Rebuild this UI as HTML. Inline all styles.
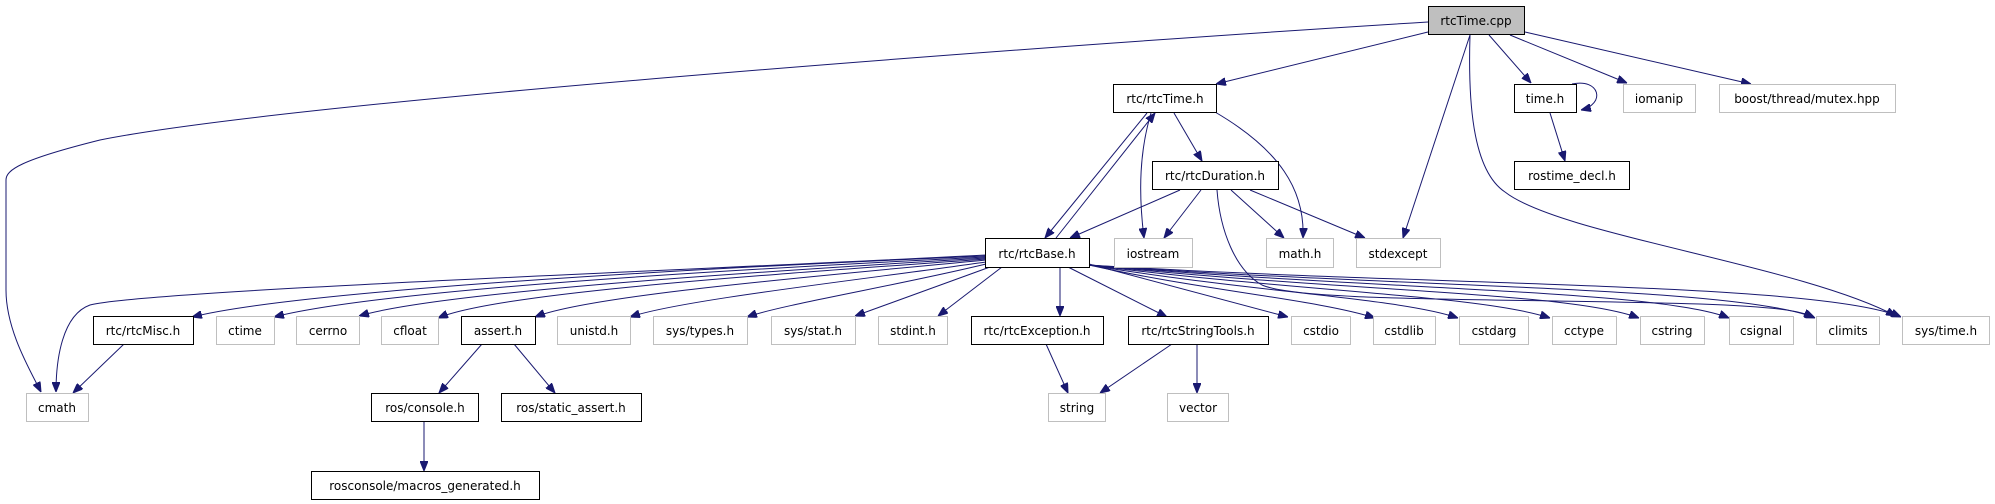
<!DOCTYPE html>
<html><head><meta charset="utf-8"><style>
html,body{margin:0;padding:0;background:#fff;}
svg{display:block;}
text{font-family:"DejaVu Sans","Liberation Sans",sans-serif;font-size:12px;text-anchor:middle;fill:#000;}
.b{fill:#fff;stroke:#000;stroke-width:1;}
.g{fill:#fff;stroke:#bfbfbf;stroke-width:1;}
.e{fill:none;stroke:#191970;stroke-width:1;marker-end:url(#a);}
</style></head><body>
<svg width="1995" height="504" viewBox="0 0 1995 504" xmlns="http://www.w3.org/2000/svg">
<defs><marker id="a" markerUnits="userSpaceOnUse" markerWidth="10" markerHeight="8" refX="10" refY="4" orient="auto"><path d="M0,0 L10,4 L0,8 z" fill="#191970" stroke="#191970"/></marker></defs>

<!-- edges from rtcTime.cpp -->
<path class="e" d="M1428,22 C1100,42 300,100 100,140 C20,160 6,170 6,180 L6,290 C6,330 30,370 41,392"/>
<path class="e" d="M1428,32 L1216,84"/>
<path class="e" d="M1470,35 L1403,238"/>
<path class="e" d="M1470,35 C1468,100 1472,170 1505,192 C1560,235 1800,265 1896,316"/>
<path class="e" d="M1489,35 L1531,83"/>
<path class="e" d="M1510,35 L1627,83"/>
<path class="e" d="M1525,32 L1751,84"/>
<path class="e" d="M1572,84 C1600,78 1606,104 1581,110"/>
<path class="e" d="M1550,113 L1565,161"/>

<!-- rtcTime.h -->
<path class="e" d="M1147,113 L1045,238"/>
<path class="e" d="M1056,238 L1155,113"/>
<path class="e" d="M1151,113 C1140,150 1138,190 1144,238"/>
<path class="e" d="M1174,113 L1202,161"/>
<path class="e" d="M1215,112 C1280,150 1305,190 1303,238"/>

<!-- rtcDuration.h -->
<path class="e" d="M1180,190 L1070,238"/>
<path class="e" d="M1201,190 L1164,238"/>
<path class="e" d="M1231,190 L1284,238"/>
<path class="e" d="M1250,190 L1365,238"/>
<path class="e" d="M1217,190 C1220,230 1235,270 1262,285 C1300,302 1500,298 1700,304 C1780,307 1800,311 1814,317"/>

<!-- rtcBase.h left fan -->
<path class="e" d="M986,255 C700,270 150,290 90,305 C62,315 56,360 56,392"/>
<path class="e" d="M986,256 C700,268 300,290 192,317"/>
<path class="e" d="M986,257 C720,270 380,290 274,317"/>
<path class="e" d="M986,258 C750,272 440,292 359,316"/>
<path class="e" d="M986,259 C780,274 500,292 438,318"/>
<path class="e" d="M986,260 C820,276 590,295 535,317"/>
<path class="e" d="M986,262 C860,280 680,300 630,317"/>
<path class="e" d="M986,264 C900,285 780,305 747,317"/>
<path class="e" d="M990,267 L855,316"/>
<path class="e" d="M1002,267 L938,316"/>
<path class="e" d="M1060,267 L1060,316"/>
<path class="e" d="M1068,267 L1167,317"/>
<!-- rtcBase right fan -->
<path class="e" d="M1089,264 L1288,317"/>
<path class="e" d="M1089,265 C1200,290 1320,300 1375,318"/>
<path class="e" d="M1089,265 C1250,292 1400,298 1458,318"/>
<path class="e" d="M1089,265 C1300,292 1480,295 1550,318"/>
<path class="e" d="M1089,265 C1350,292 1570,292 1639,318"/>
<path class="e" d="M1089,265 C1380,290 1660,290 1729,318"/>
<path class="e" d="M1089,265 C1400,288 1740,286 1815,318"/>
<path class="e" d="M1089,265 C1420,286 1820,282 1901,317"/>

<!-- lower -->
<path class="e" d="M482,344 L439,393"/>
<path class="e" d="M514,344 L555,393"/>
<path class="e" d="M424,422 L424,471"/>
<path class="e" d="M124,344 L73,393"/>
<path class="e" d="M1046,344 L1068,393"/>
<path class="e" d="M1172,344 L1100,393"/>
<path class="e" d="M1197,344 L1197,393"/>

<!-- nodes -->
<rect x="1428.5" y="6.5" width="96" height="28" fill="#bfbfbf" stroke="#000"/><text x="1476" y="25">rtcTime.cpp</text>
<rect class="b" x="1113.5" y="84.5" width="103" height="28"/><text x="1165" y="103">rtc/rtcTime.h</text>
<rect class="b" x="1514.5" y="84.5" width="62" height="28"/><text x="1545" y="103">time.h</text>
<rect class="g" x="1623.5" y="84.5" width="72" height="28"/><text x="1659" y="103">iomanip</text>
<rect class="g" x="1719.5" y="84.5" width="176" height="28"/><text x="1807" y="103">boost/thread/mutex.hpp</text>
<rect class="b" x="1152.5" y="161.5" width="126" height="28"/><text x="1215" y="180">rtc/rtcDuration.h</text>
<rect class="b" x="1514.5" y="161.5" width="115" height="28"/><text x="1572" y="180">rostime_decl.h</text>
<rect class="b" x="985.5" y="238.5" width="104" height="29"/><text x="1037" y="258">rtc/rtcBase.h</text>
<rect class="g" x="1114.5" y="238.5" width="78" height="29"/><text x="1153" y="258">iostream</text>
<rect class="g" x="1266.5" y="238.5" width="67" height="29"/><text x="1300" y="258">math.h</text>
<rect class="g" x="1356.5" y="238.5" width="84" height="29"/><text x="1398" y="258">stdexcept</text>

<rect class="b" x="93.5" y="316.5" width="100" height="28"/><text x="143" y="335">rtc/rtcMisc.h</text>
<rect class="g" x="216.5" y="316.5" width="58" height="28"/><text x="245" y="335">ctime</text>
<rect class="g" x="296.5" y="316.5" width="63" height="28"/><text x="328" y="335">cerrno</text>
<rect class="g" x="381.5" y="316.5" width="57" height="28"/><text x="410" y="335">cfloat</text>
<rect class="b" x="461.5" y="316.5" width="74" height="28"/><text x="498" y="335">assert.h</text>
<rect class="g" x="557.5" y="316.5" width="73" height="28"/><text x="594" y="335">unistd.h</text>
<rect class="g" x="653.5" y="316.5" width="94" height="28"/><text x="700" y="335">sys/types.h</text>
<rect class="g" x="771.5" y="316.5" width="84" height="28"/><text x="813" y="335">sys/stat.h</text>
<rect class="g" x="878.5" y="316.5" width="69" height="28"/><text x="913" y="335">stdint.h</text>
<rect class="b" x="971.5" y="316.5" width="132" height="28"/><text x="1037" y="335">rtc/rtcException.h</text>
<rect class="b" x="1128.5" y="316.5" width="140" height="28"/><text x="1198" y="335">rtc/rtcStringTools.h</text>
<rect class="g" x="1291.5" y="316.5" width="59" height="28"/><text x="1321" y="335">cstdio</text>
<rect class="g" x="1373.5" y="316.5" width="62" height="28"/><text x="1404" y="335">cstdlib</text>
<rect class="g" x="1459.5" y="316.5" width="69" height="28"/><text x="1494" y="335">cstdarg</text>
<rect class="g" x="1552.5" y="316.5" width="64" height="28"/><text x="1584" y="335">cctype</text>
<rect class="g" x="1640.5" y="316.5" width="64" height="28"/><text x="1672" y="335">cstring</text>
<rect class="g" x="1729.5" y="316.5" width="64" height="28"/><text x="1761" y="335">csignal</text>
<rect class="g" x="1816.5" y="316.5" width="63" height="28"/><text x="1848" y="335">climits</text>
<rect class="g" x="1902.5" y="316.5" width="87" height="28"/><text x="1946" y="335">sys/time.h</text>

<rect class="g" x="26.5" y="393.5" width="62" height="28"/><text x="57" y="412">cmath</text>
<rect class="b" x="371.5" y="393.5" width="107" height="28"/><text x="425" y="412">ros/console.h</text>
<rect class="b" x="501.5" y="393.5" width="140" height="28"/><text x="571" y="412">ros/static_assert.h</text>
<rect class="g" x="1048.5" y="393.5" width="57" height="28"/><text x="1077" y="412">string</text>
<rect class="g" x="1167.5" y="393.5" width="61" height="28"/><text x="1198" y="412">vector</text>
<rect class="b" x="311.5" y="471.5" width="228" height="28"/><text x="425" y="490">rosconsole/macros_generated.h</text>
</svg>
</body></html>
